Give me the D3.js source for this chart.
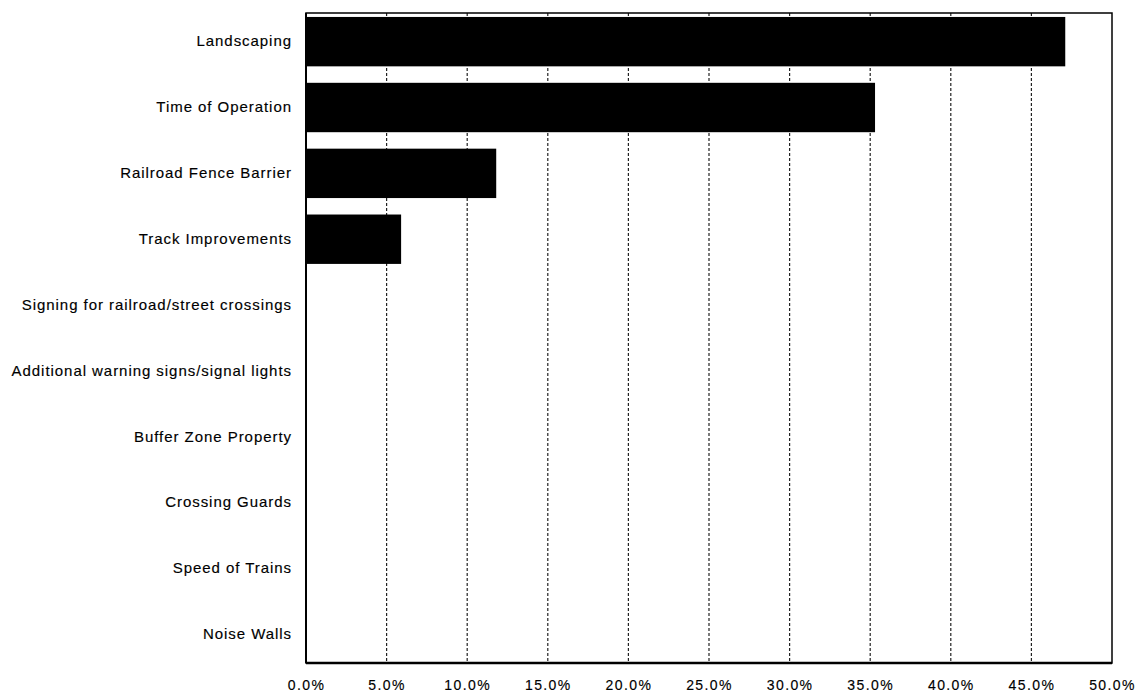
<!DOCTYPE html>
<html>
<head>
<meta charset="utf-8">
<script src="https://cdn.jsdelivr.net/npm/d3@7"></script>
<style>
  body { margin: 0; background: #fff; }
  text { font-family: "Liberation Sans", Arial, sans-serif; fill: #000; }
</style>
</head>
<body>
<div id="chart"></div>
<script>
// categories, top to bottom
var categories = [
  "Landscaping",
  "Time of Operation",
  "Railroad Fence Barrier",
  "Track Improvements",
  "Signing for railroad/street crossings",
  "Additional warning signs/signal lights",
  "Buffer Zone Property",
  "Crossing Guards",
  "Speed of Trains",
  "Noise Walls"
];
// share of responses, percent
var values = [47.1, 35.3, 11.8, 5.9, 0, 0, 0, 0, 0, 0];
var tickValues = [0, 5, 10, 15, 20, 25, 30, 35, 40, 45, 50];

const margin = { top: 13, right: 33, bottom: 35, left: 306 },
  width = 1145 - margin.left - margin.right,
  height = 698 - margin.top - margin.bottom;

var svg = d3
  .select("#chart")
  .append("svg")
  .attr("width", 1145)
  .attr("height", 698)
  .append("g")
  .attr("transform", `translate(${margin.left},${margin.top})`);

const x = d3.scaleLinear().domain([0, 50]).range([0, width]);
const y = d3.scaleBand().domain(categories).range([0, height]).paddingInner(0.25).paddingOuter(0.06);

// dashed gridlines
svg
  .selectAll(".grid")
  .data(tickValues.filter((d) => d > 0 && d < 50))
  .join("line")
  .attr("x1", (d) => x(d))
  .attr("x2", (d) => x(d))
  .attr("y1", 0)
  .attr("y2", height)
  .attr("stroke", "#222")
  .attr("stroke-width", 1.2)
  .attr("stroke-dasharray", "3,2");

// bars
svg
  .selectAll(".bar")
  .data(values)
  .join("rect")
  .attr("x", x(0))
  .attr("y", (d, i) => y(categories[i]))
  .attr("width", (d) => x(d) - x(0))
  .attr("height", y.bandwidth())
  .attr("fill", "#000");

// frame
svg
  .append("rect")
  .attr("x", 0)
  .attr("y", 0)
  .attr("width", width)
  .attr("height", height)
  .attr("fill", "none")
  .attr("stroke", "#000")
  .attr("stroke-width", 1.5);
svg
  .append("line")
  .attr("x1", 0).attr("x2", width)
  .attr("y1", height).attr("y2", height)
  .attr("stroke", "#000").attr("stroke-width", 2.5);
svg
  .append("line")
  .attr("x1", 0).attr("x2", 0)
  .attr("y1", 0).attr("y2", height)
  .attr("stroke", "#000").attr("stroke-width", 2);

// x axis labels
var xAxis = svg
  .append("g")
  .attr("transform", `translate(0,${height})`)
  .call(d3.axisBottom(x).tickValues(tickValues).tickSize(0).tickPadding(17).tickFormat((d) => d.toFixed(1) + "%"));
xAxis.select(".domain").remove();
xAxis.selectAll("text")
  .style("font-size", "14px")
  .style("letter-spacing", "1.4px")
  .style("font-family", "Liberation Sans, Arial, sans-serif")
  .attr("fill", "#000")
  .attr("stroke", "#000")
  .attr("stroke-width", 0.15);

// y axis labels
var yAxis = svg
  .append("g")
  .call(d3.axisLeft(y).tickSize(0).tickPadding(14));
yAxis.select(".domain").remove();
yAxis.selectAll("text")
  .style("font-size", "15px")
  .style("letter-spacing", "0.95px")
  .style("font-family", "Liberation Sans, Arial, sans-serif")
  .attr("fill", "#000")
  .attr("stroke", "#000")
  .attr("stroke-width", 0.15);
</script>
</body>
</html>
